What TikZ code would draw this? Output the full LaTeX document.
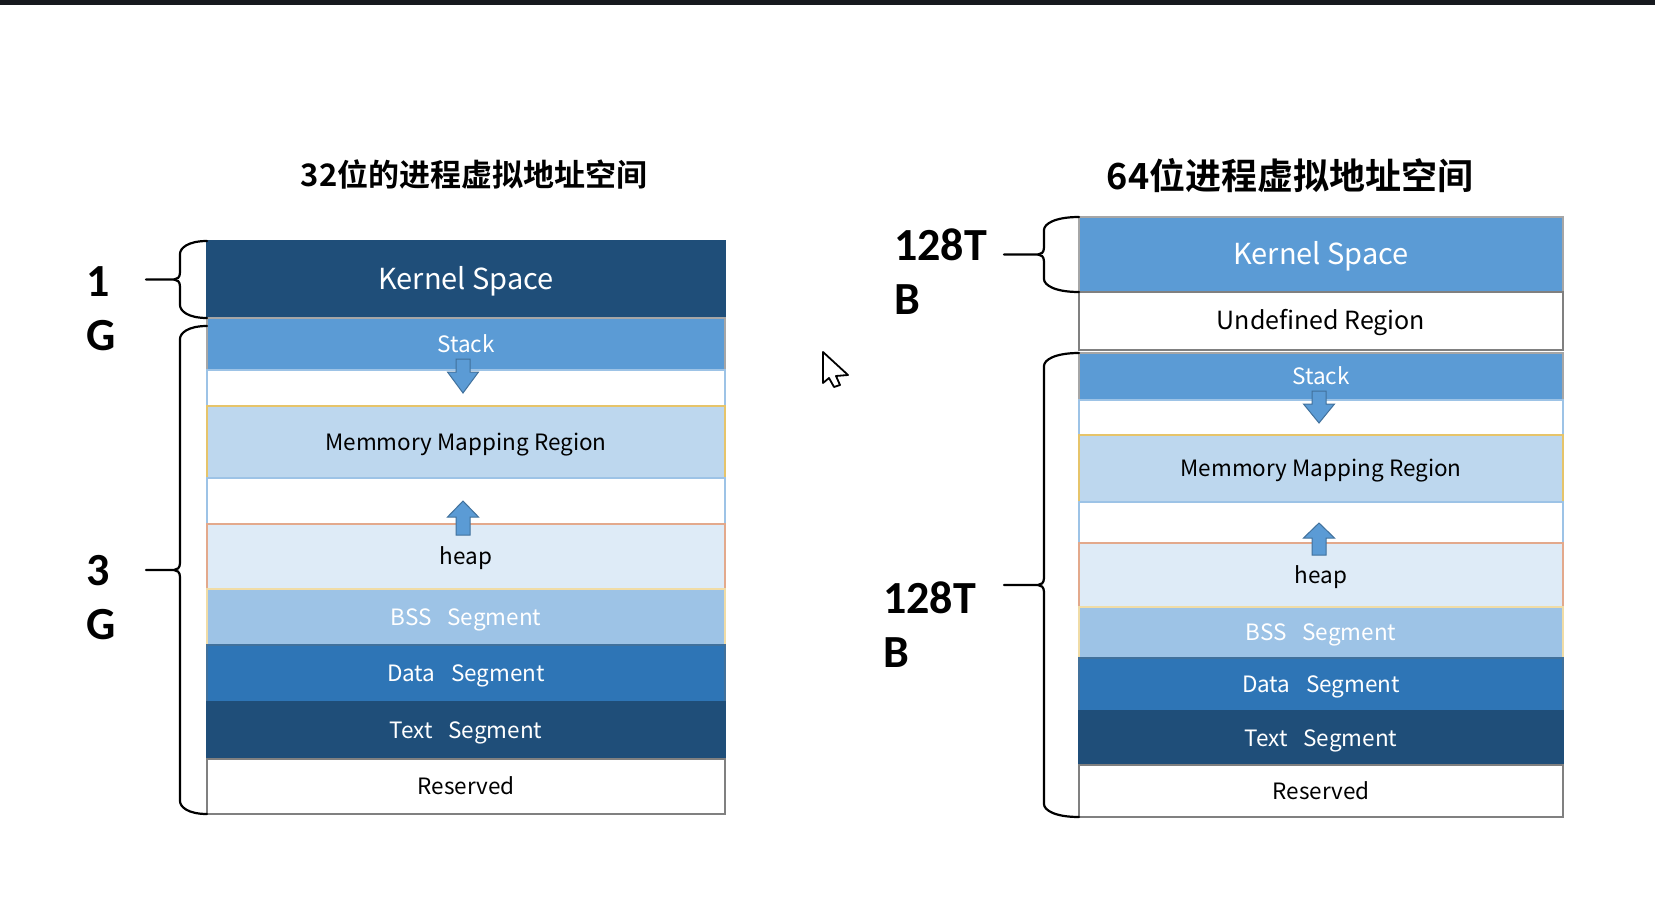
\documentclass[tikz,border=0pt]{standalone}
\usepackage{fontspec}
\usepackage{xcolor}
\usetikzlibrary{positioning, calc}
\setmainfont{Noto Sans CJK SC}[BoldFont={Noto Sans CJK SC Bold}]
\newfontfamily\sizefont{Carlito}

\definecolor{navy}{HTML}{1F4E79}
\definecolor{midblue}{HTML}{5B9BD5}
\definecolor{paleblue}{HTML}{BDD7EE}
\definecolor{iceblue}{HTML}{DEEBF7}
\definecolor{softblue}{HTML}{9DC3E6}
\definecolor{deepblue}{HTML}{2E75B6}
\definecolor{goldline}{HTML}{E6C46A}
\definecolor{salmonline}{HTML}{E3A98C}
\definecolor{arrowline}{HTML}{41719C}
\definecolor{barcolor}{HTML}{16191E}

\tikzset{
  seg/.style = {rectangle, inner sep=0pt, outer sep=0pt, line width=1.2pt,
    minimum height=#1, text height=18pt, text depth=2pt,
    font=\fontsize{22.5}{27}\selectfont},
  kerntext/.style = {font=\fontsize{29}{35}\selectfont, text height=23pt, text depth=3pt},
  undeftext/.style = {font=\fontsize{25}{30}\selectfont, text height=20pt, text depth=2.5pt},
  col32/.style = {minimum width=518pt},
  col64/.style = {minimum width=484pt},
  darkseg/.style = {fill=navy, draw=navy, text=white},
  midseg/.style = {fill=midblue, draw=gray!70, text=white},
  mmapseg/.style = {fill=paleblue, draw=goldline},
  heapseg/.style = {fill=iceblue, draw=salmonline},
  bssseg/.style = {fill=softblue, draw=goldline!60, text=white},
  dataseg/.style = {fill=deepblue, draw=arrowline, text=white},
  gapseg/.style = {fill=white, draw=softblue},
  plainseg/.style = {fill=white, draw=gray},
  growarrow/.style = {fill=midblue, draw=arrowline, line width=1pt},
  bracepen/.style = {draw=black, line width=2.2pt, line cap=round},
  sizelabel/.style = {align=left, inner sep=0pt, font=\sizefont\bfseries\fontsize{46}{54}\selectfont},
  titletext/.style = {inner sep=0pt, font=\bfseries\fontsize{#1}{40}\selectfont}
}

\newcommand{\sizebrace}[4]{%
  \coordinate (bt) at (#1);
  \coordinate (bb) at (#2);
  \coordinate (bm) at ($(bt)!0.5!(bb)$);
  \draw[bracepen] (bt) .. controls +(-0.7*#3,0) and +(0,-6) .. ($(bt)+(-#3,13)$)
    -- ($(bm)+(-#3,-7)$) .. controls +(0,5) and +(3,0) .. ($(bm)+(-#3-6,0)$) -- ($(bm)+(-#4,0)$);
  \draw[bracepen] (bb) .. controls +(-0.7*#3,0) and +(0,6) .. ($(bb)+(-#3,-13)$)
    -- ($(bm)+(-#3,7)$) .. controls +(0,-5) and +(3,0) .. ($(bm)+(-#3-6,0)$);
}

\begin{document}
\begin{tikzpicture}[x=1pt, y=-1pt]
\useasboundingbox (0,0) rectangle (1655,905);
\fill[barcolor] (0,0) rectangle (1655,4.5);

% 32-bit address space
\node[titletext=31] (title32) at (474,174) {32位的进程虚拟地址空间};
\node[seg=77pt, col32, darkseg, kerntext, anchor=north west] (kern32) at (207,241) {Kernel Space};
\node[seg=52pt, col32, midseg, below=0pt of kern32] (stack32) {Stack};
\node[seg=36pt, col32, gapseg, below=0pt of stack32] (gapa32) {};
\node[seg=72pt, col32, mmapseg, below=0pt of gapa32] (mmap32) {Memmory Mapping Region};
\node[seg=46pt, col32, gapseg, below=0pt of mmap32] (gapb32) {};
\node[seg=65pt, col32, heapseg, below=0pt of gapb32] (heap32) {heap};
\node[seg=56pt, col32, bssseg, below=0pt of heap32] (bss32) {BSS\hspace{0.7em}Segment};
\node[seg=57pt, col32, dataseg, below=0pt of bss32] (data32) {Data\hspace{0.7em}Segment};
\node[seg=57pt, col32, darkseg, below=0pt of data32] (text32) {Text\hspace{0.7em}Segment};
\node[seg=55pt, col32, plainseg, below=0pt of text32] (resv32) {Reserved};

\draw[growarrow] ($(stack32.south)+(-10,-11)$) -- ++(14,0) -- ++(0,13) -- ++(8.5,0)
  -- ++(-15.5,21) -- ++(-15.5,-21) -- ++(8.5,0) -- cycle;
\draw[growarrow] ($(heap32.north)+(-10,11)$) -- ++(14,0) -- ++(0,-18) -- ++(8.5,0)
  -- ++(-15.5,-16) -- ++(-15.5,16) -- ++(8.5,0) -- cycle;

\sizebrace{kern32.north west}{kern32.south west}{27}{61}
\sizebrace{$(stack32.north west)+(0,8)$}{resv32.south west}{27}{61}
\node[sizelabel, anchor=west] (onegig) at (86,309) {1\\G};
\node[sizelabel, anchor=west] (threegig) at (86,598) {3\\G};

% 64-bit address space
\node[titletext=36] (title64) at (1290,176) {64位进程虚拟地址空间};
\node[seg=75pt, col64, midseg, kerntext, anchor=north west] (kern64) at (1079,217) {Kernel Space};
\node[seg=58pt, col64, plainseg, undeftext, below=0pt of kern64] (undef64) {Undefined Region};
\node[seg=47pt, col64, midseg, below=3pt of undef64] (stack64) {Stack};
\node[seg=35pt, col64, gapseg, below=0pt of stack64] (gapa64) {};
\node[seg=67pt, col64, mmapseg, below=0pt of gapa64] (mmap64) {Memmory Mapping Region};
\node[seg=41pt, col64, gapseg, below=0pt of mmap64] (gapb64) {};
\node[seg=64pt, col64, heapseg, below=0pt of gapb64] (heap64) {heap};
\node[seg=51pt, col64, bssseg, below=0pt of heap64] (bss64) {BSS\hspace{0.7em}Segment};
\node[seg=53pt, col64, dataseg, below=0pt of bss64] (data64) {Data\hspace{0.7em}Segment};
\node[seg=54pt, col64, darkseg, below=0pt of data64] (text64) {Text\hspace{0.7em}Segment};
\node[seg=52pt, col64, plainseg, below=0pt of text64] (resv64) {Reserved};

\draw[growarrow] ($(stack64.south)+(-9,-9)$) -- ++(14,0) -- ++(0,13) -- ++(8.5,0)
  -- ++(-15.5,19) -- ++(-15.5,-19) -- ++(8.5,0) -- cycle;
\draw[growarrow] ($(heap64.north)+(-9,12)$) -- ++(14,0) -- ++(0,-17) -- ++(8.5,0)
  -- ++(-15.5,-15) -- ++(-15.5,15) -- ++(8.5,0) -- cycle;

\sizebrace{kern64.north west}{kern64.south west}{35}{75}
\sizebrace{stack64.north west}{resv64.south west}{35}{75}
\node[sizelabel, anchor=west] (kernsize64) at (894,272) {128T\\B};
\node[sizelabel, anchor=west] (usersize64) at (883,625) {128T\\B};

% mouse pointer
\draw[fill=white, line width=1.8pt, line join=round] (823,352) -- ++(0,31) -- ++(6,-5)
  -- ++(5,9) -- ++(6,-2) -- ++(-4,-9) -- ++(12,-1) -- cycle;
\end{tikzpicture}
\end{document}
